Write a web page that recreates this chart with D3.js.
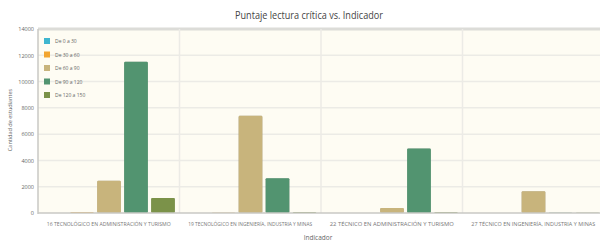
<!DOCTYPE html>
<html><head><meta charset="utf-8">
<script src="https://cdn.jsdelivr.net/npm/d3@7"></script>
<style>body{margin:0;background:#fff}svg{display:block}text{font-family:"Open Sans",sans-serif}</style>
</head><body><svg id="c" width="600" height="245"></svg>
<script>
const categories = ["16 TECNOLÓGICO EN ADMINISTRACIÓN Y TURISMO","19 TECNOLÓGICO EN INGENIERÍA, INDUSTRIA Y MINAS","22 TÉCNICO EN ADMINISTRACIÓN Y TURISMO","27 TÉCNICO EN INGENIERÍA, INDUSTRIA Y MINAS"];
const seriesNames = ["De 0 a 30","De 30 a 60","De 60 a 90","De 90 a 120","De 120 a 150"];
const s0to30 = [0, 0, 0, 0];
const s30to60 = [60, 20, 5, 0];
const s60to90 = [2450, 7400, 380, 1650];
const s90to120 = [11500, 2650, 4900, 10];
const s120to150 = [1150, 60, 60, 10];
const yTicks = [0, 2000, 4000, 6000, 8000, 10000, 12000, 14000];
const colors = ["#3fb6cf","#f2a531","#c8b47c","#529470","#7b9249"];
const seriesValues = [s0to30, s30to60, s60to90, s90to120, s120to150];

const svg = d3.select("#c");
const L = 38, R = 604, T = 29, B = 213;
const y = d3.scaleLinear().domain([0, 14000]).range([B, T]);
const x0 = d3.scaleBand().domain(categories).range([L, R]);
const x1 = d3.scaleBand().domain(seriesNames).range([3.5, x0.bandwidth() - 3]).paddingInner(0.12).paddingOuter(0.06);

svg.append("rect").attr("x", L).attr("y", T).attr("width", R - L).attr("height", B - T).attr("fill", "#fefcf3");
svg.append("g").selectAll("line").data(yTicks.filter(d => d > 0 && d < 14000)).join("line")
  .attr("x1", L).attr("x2", R).attr("y1", d => y(d)).attr("y2", d => y(d))
  .attr("stroke", "#ecebe6").attr("stroke-width", 1.5);
svg.append("line").attr("x1", L).attr("x2", R).attr("y1", y(14000)).attr("y2", y(14000)).attr("stroke", "#dcdcd8").attr("stroke-width", 3);
svg.append("g").selectAll("line").data(categories.slice(1)).join("line")
  .attr("x1", d => x0(d)).attr("x2", d => x0(d)).attr("y1", T).attr("y2", B)
  .attr("stroke", "#ecebe6").attr("stroke-width", 1.5);

const groups = svg.append("g").selectAll("g").data(categories).join("g")
  .attr("transform", d => `translate(${x0(d)},0)`);
groups.selectAll("rect").data((d, i) => seriesNames.map((s, j) => ({s, v: seriesValues[j][i], c: colors[j]})))
  .join("rect")
  .attr("x", d => x1(d.s)).attr("width", x1.bandwidth())
  .attr("y", d => y(d.v)).attr("height", d => B - y(d.v))
  .attr("fill", d => d.c).attr("rx", 1.2)
  .style("filter", "drop-shadow(0.5px 0.5px 0.6px rgba(0,0,0,0.25))");

svg.append("line").attr("x1", L).attr("x2", L).attr("y1", T).attr("y2", B + 1).attr("stroke", "#c8c8c4").attr("stroke-width", 1.5);
svg.append("line").attr("x1", L).attr("x2", R).attr("y1", B).attr("y2", B).attr("stroke", "#c8c8c4").attr("stroke-width", 1.5);

const yAxis = d3.axisLeft(y).tickValues(yTicks).tickFormat(d3.format("d")).tickSize(0).tickPadding(4);
const ya = svg.append("g").attr("transform", `translate(${L},0)`).call(yAxis);
ya.select(".domain").remove();
ya.selectAll("text").attr("font-size", 5.5).attr("fill", "#666").attr("font-family", "Open Sans, sans-serif");

const xAxis = d3.axisBottom(x0).tickSize(0).tickPadding(9);
const xa = svg.append("g").attr("transform", `translate(0,${B})`).call(xAxis);
xa.select(".domain").remove();
xa.selectAll("text").attr("font-size", 5).attr("fill", "#777").attr("font-family", "Open Sans, sans-serif")
  .attr("textLength", 124).attr("lengthAdjust", "spacingAndGlyphs");

svg.append("text").attr("x", 309).attr("y", 19).attr("text-anchor", "middle").attr("font-size", 10.5).attr("fill", "#444")
  .attr("textLength", 148).attr("lengthAdjust", "spacingAndGlyphs").text("Puntaje lectura crítica vs. Indicador");
svg.append("text").attr("x", 318).attr("y", 240).attr("text-anchor", "middle").attr("font-size", 6.5).attr("fill", "#666").text("Indicador");
svg.append("text").attr("transform", "translate(12,120) rotate(-90)").attr("text-anchor", "middle").attr("font-size", 5.5).attr("fill", "#666")
  .text("Cantidad de estudiantes");

const lg = svg.append("g").selectAll("g").data(seriesNames).join("g")
  .attr("transform", (d, i) => `translate(44,${41 + i * 13.5})`);
lg.append("rect").attr("x", 0).attr("y", -3).attr("width", 6).attr("height", 6).attr("fill", (d, i) => colors[i]);
lg.append("text").attr("x", 11).attr("y", 2).attr("font-size", 5).attr("fill", "#666").text(d => d);
</script></body></html>
